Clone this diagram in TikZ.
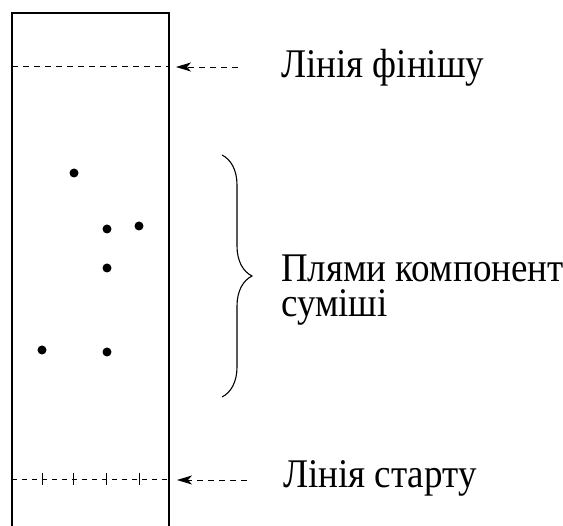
\documentclass[tikz,border=0pt]{standalone}
\usepackage{fontspec}
\setmainfont{Liberation Serif}
\usetikzlibrary{arrows.meta,decorations.pathreplacing}
\newcommand{\tallcaption}[1]{\scalebox{1}[1.1]{#1}}
\begin{document}
\begin{tikzpicture}[x=1pt,y=-1pt,
  plate/.style={line width=1.3pt},
  guide/.style={line width=0.9pt, dash pattern=on 6pt off 5pt},
  pointer/.style={line width=0.9pt, dash pattern=on 6pt off 5pt, -{Stealth[length=15pt,width=9pt,inset=4pt]}},
  spot/.style={circle, fill=black, inner sep=0pt, minimum size=9pt},
  label/.style={font=\fontsize{37}{42}\selectfont, anchor=base west, inner sep=0pt},
  tick/.style={line width=1pt}]
\useasboundingbox (0,0) rectangle (563,526);
% chromatography plate, open at the bottom
\draw[plate] (12,530) -- (12,13) -- (169,13) -- (169,530);
% finish line
\coordinate (fL) at (12,66);
\coordinate (fR) at (169,66);
\draw[guide] (fL) -- (fR);
% start line with sample marks
\coordinate (sL) at (12,479);
\coordinate (sR) at (169,479);
\draw[guide, dash pattern=on 5pt off 5pt] (sL) -- (sR);
\foreach \x in {42,73,106,139}
  \draw[tick] (\x,473) -- (\x,485);
% component spots
\node[spot] (p1) at (74,173) {};
\node[spot] (p2) at (107,229) {};
\node[spot] (p3) at (139,226) {};
\node[spot] (p4) at (107,268) {};
\node[spot] (p5) at (42,350) {};
\node[spot] (p6) at (107,352) {};
% labels
\node[label] (finish) at (281,78) {\tallcaption{Лінія фінішу}};
\node[label] (spots) at (281,282) {\tallcaption{Плями компонент}};
\node[label] (mix) at (281,317) {\tallcaption{суміші}};
\node[label] (start) at (283,488) {\tallcaption{Лінія старту}};
% pointers
\coordinate (fa) at (238,67);
\coordinate (fb) at (176,67);
\draw[pointer] (fa) -- (fb);
\coordinate (sa) at (247,480);
\coordinate (sb) at (177,480);
\draw[pointer] (sa) -- (sb);
% brace grouping the spots
\coordinate (bt) at (222,155);
\coordinate (bb) at (222,397);
\draw[line width=1.1pt, decorate, decoration={brace, amplitude=30pt, aspect=0.5}] (bt) -- (bb);
\end{tikzpicture}
\end{document}
